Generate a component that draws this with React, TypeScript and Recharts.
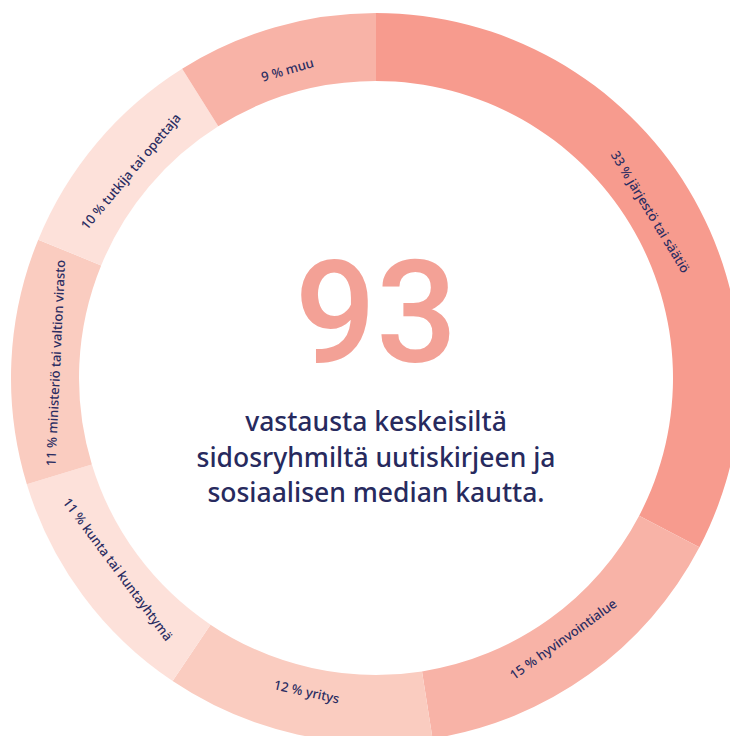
import React from "react";
import { PieChart, Pie, Cell } from "recharts";

const categories = [
  "järjestö tai säätiö",
  "hyvinvointialue",
  "yritys",
  "kunta tai kuntayhtymä",
  "ministeriö tai valtion virasto",
  "tutkija tai opettaja",
  "muu",
];
const shares = [33, 15, 12, 11, 11, 10, 9];
const sliceColors = ["#F79B8E", "#F8B3A7", "#FACCC0", "#FDE1DA", "#FACCC0", "#FDE1DA", "#F8B3A7"];
const centerNumber = "93";
const centerLines = [
  "vastausta keskeisiltä",
  "sidosryhmiltä uutiskirjeen ja",
  "sosiaalisen median kautta.",
];

const data = categories.map((c, i) => ({ name: c, value: shares[i] }));

const W = 730;
const H = 736;
const CX = 376;
const CY = 378;
const RAD = Math.PI / 180;

const renderLabel = (props: any) => {
  const { cx, cy, midAngle, index } = props;
  const r = 321;
  const x = cx + r * Math.cos(-midAngle * RAD);
  const y = cy + r * Math.sin(-midAngle * RAD);
  let theta = 90 - midAngle; // clockwise from top
  theta = ((theta % 360) + 360) % 360;
  let rot = theta;
  if (theta > 90 && theta < 270) rot = theta - 180;
  else if (theta >= 270) rot = theta - 360;
  return (
    <text
      x={x}
      y={y}
      transform={`rotate(${rot} ${x} ${y})`}
      textAnchor="middle"
      dominantBaseline="central"
      fill="#2B2D62"
      fontSize={13}
      fontFamily="'Noto Sans', sans-serif"
      fontWeight={500}
    >
      {`${shares[index]} % ${categories[index]}`}
    </text>
  );
};

export default function App() {
  return (
    <div style={{ position: "absolute", left: 0, top: 0, width: W, height: H, overflow: "hidden", background: "#fff" }}>
      <PieChart width={W} height={H} margin={{ top: 0, right: 0, bottom: 0, left: 0 }}>
        <Pie
          data={data}
          dataKey="value"
          nameKey="name"
          cx={CX}
          cy={CY}
          innerRadius={297}
          outerRadius={365}
          startAngle={90}
          endAngle={-270}
          stroke="none"
          isAnimationActive={false}
          label={renderLabel}
          labelLine={false}
        >
          {data.map((d, i) => (
            <Cell key={d.name} fill={sliceColors[i]} />
          ))}
        </Pie>
      </PieChart>
      <svg width={W} height={H} style={{ position: "absolute", left: 0, top: 0, pointerEvents: "none" }}>
        <text
          x={CX}
          y={362}
          textAnchor="middle"
          fill="#F3A196"
          fontSize={143}
          fontFamily="Roboto, sans-serif"
          fontWeight={500}
        >
          {centerNumber}
        </text>
        {centerLines.map((line, i) => (
          <text
            key={line}
            x={CX}
            y={431 + i * 35.5}
            textAnchor="middle"
            fill="#272A5E"
            fontSize={26.5}
            fontFamily="'Noto Sans', sans-serif"
            fontWeight={500}
          >
            {line}
          </text>
        ))}
      </svg>
    </div>
  );
}
